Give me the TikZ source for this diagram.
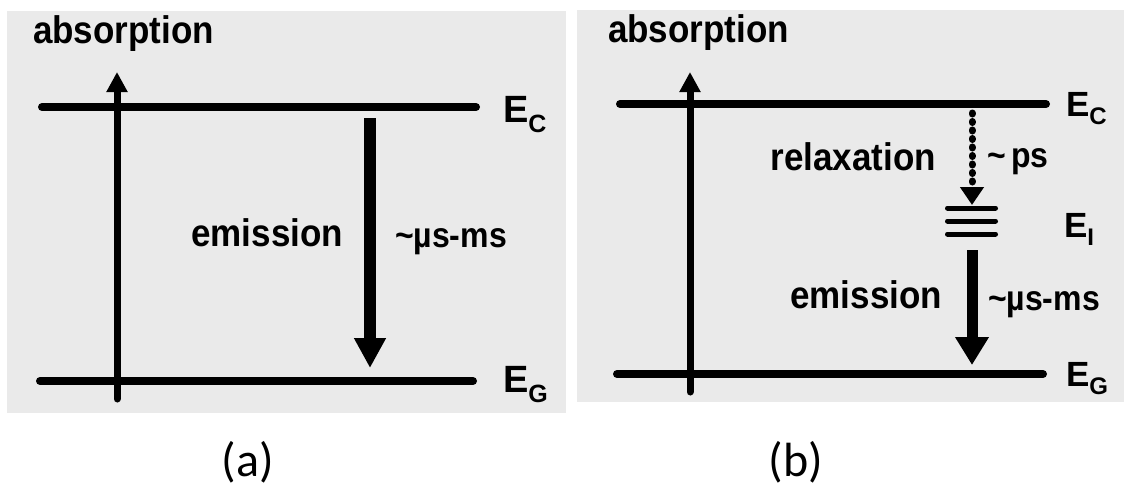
\documentclass[tikz,border=0pt]{standalone}
\usepackage{fontspec}
\setmainfont{Liberation Sans}
\newfontfamily\capfont{Carlito}
\usetikzlibrary{arrows.meta}
\definecolor{paper}{RGB}{234,234,234}
\newcommand{\tallbox}[1]{\scalebox{1}[1.1]{#1}}
\begin{document}
\begin{tikzpicture}[x=1pt,y=-1pt,
  every node/.style={inner sep=0pt, outer sep=0pt},
  lbl/.style={font=\fontsize{35}{40}\selectfont\bfseries},
  small/.style={font=\fontsize{32}{36}\selectfont\bfseries},
  elab/.style={font=\fontsize{38}{42}\selectfont\bfseries, anchor=base west},
  panelcap/.style={font=\capfont\fontsize{48}{52}\selectfont},
  level/.style={line width=8pt, line cap=round},
  sublevel/.style={line width=5pt, line cap=round},
  absarrow/.style={line width=7pt, line cap=round, -{Triangle[width=20pt,length=20pt]}},
  emarrow/.style={line width=12pt, -{Triangle[width=30pt,length=30pt]}},
  relarrow/.style={line width=7pt, line cap=round, dash pattern=on 1pt off 7.5pt, -{Triangle[width=23pt,length=18pt]}}
]
\useasboundingbox (0,0) rectangle (1124,490);
\fill[paper] (7,11) rectangle (566,413);
\fill[paper] (577,10) rectangle (1124,402);

% ---------- panel (a) ----------
\coordinate (aecl) at (42,107);  \coordinate (aecr) at (476,107);
\coordinate (aegl) at (40,381);  \coordinate (aegr) at (473,381);
\draw[level] (aecl) -- (aecr);
\draw[level] (aegl) -- (aegr);
\coordinate (aabsb) at (117,399); \coordinate (aabst) at (117,72);
\draw[absarrow] (aabsb) -- (aabst);
\coordinate (aemt) at (370,118); \coordinate (aemb) at (370,368);
\draw[emarrow] (aemt) -- (aemb);
\node[lbl, anchor=base west] (aabs) at (33,43) {\tallbox{absorption}};
\node[lbl, anchor=base east] (aem) at (343,246) {\tallbox{emission}};
\node[small, anchor=base west] (atime) at (395,247) {\tallbox{\textasciitilde µs-ms}};
\node[elab] (aEC) at (503,122) {E\raisebox{-10pt}{\fontsize{25}{25}\selectfont C}};
\node[elab] (aEG) at (503,392) {E\raisebox{-10pt}{\fontsize{25}{25}\selectfont G}};
\node[panelcap] (capa) at (248,462) {(a)};

% ---------- panel (b) ----------
\coordinate (becl) at (620,104);  \coordinate (becr) at (1046,104);
\coordinate (begl) at (617,374);  \coordinate (begr) at (1043,374);
\draw[level] (becl) -- (becr);
\draw[level] (begl) -- (begr);
\coordinate (babsb) at (690,392); \coordinate (babst) at (690,72);
\draw[absarrow] (babsb) -- (babst);
\coordinate (bi1l) at (947.5,208); \coordinate (bi1r) at (995.5,208);
\coordinate (bi2l) at (947.5,221); \coordinate (bi2r) at (995.5,221);
\coordinate (bi3l) at (947.5,234); \coordinate (bi3r) at (995.5,234);
\draw[sublevel] (bi1l) -- (bi1r);
\draw[sublevel] (bi2l) -- (bi2r);
\draw[sublevel] (bi3l) -- (bi3r);
\coordinate (brelt) at (972,113); \coordinate (brelb) at (972,205);
\draw[relarrow] (brelt) -- (brelb);
\coordinate (bemt) at (972,250); \coordinate (bemb) at (972,365);
\draw[emarrow, line width=11pt, -{Triangle[width=32pt,length=28pt]}] (bemt) -- (bemb);
\node[lbl, anchor=base west] (babs) at (608,42) {\tallbox{absorption}};
\node[lbl, anchor=base east] (brel) at (936,170) {\tallbox{relaxation}};
\node[small, anchor=base west] (bps) at (987,167) {\tallbox{\textasciitilde\,ps}};
\node[lbl, anchor=base east] (bem) at (942,308) {\tallbox{emission}};
\node[small, anchor=base west] (btime) at (988,310) {\tallbox{\textasciitilde µs-ms}};
\node[elab, font=\fontsize{35}{40}\selectfont\bfseries] (bEC) at (1066,116) {E\raisebox{-8pt}{\fontsize{24}{24}\selectfont C}};
\node[elab, font=\fontsize{35}{40}\selectfont\bfseries] (bEI) at (1064,237) {E\raisebox{-8pt}{\fontsize{24}{24}\selectfont I}};
\node[elab, font=\fontsize{35}{40}\selectfont\bfseries] (bEG) at (1066,386) {E\raisebox{-8pt}{\fontsize{24}{24}\selectfont G}};
\node[panelcap] (capb) at (796,462) {(b)};
\end{tikzpicture}
\end{document}
